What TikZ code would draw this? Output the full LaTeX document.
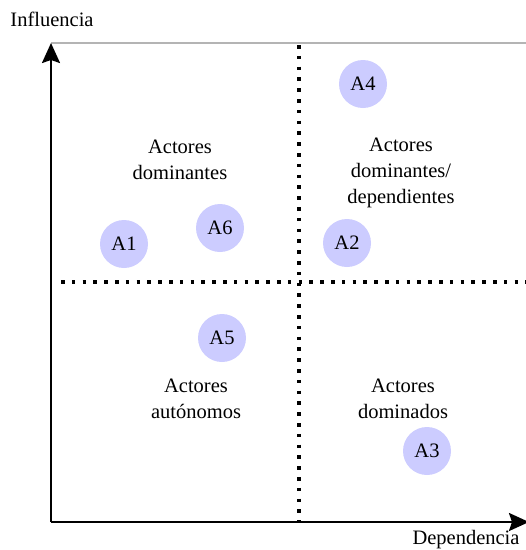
\documentclass[tikz,border=0pt]{standalone}
\usepackage{fontspec}
\setmainfont{Liberation Serif}
\usetikzlibrary{arrows.meta}
\definecolor{actorfill}{HTML}{CCCCFF}
\definecolor{frameline}{HTML}{B4B4B4}
\begin{document}
\begin{tikzpicture}[x=1pt,y=-1pt,
  lbl/.style={font=\fontsize{20.5}{26}\selectfont, inner sep=0pt, align=center},
  actor/.style={circle, fill=actorfill, minimum size=48pt, inner sep=0pt,
                font=\fontsize{20.5}{26}\selectfont},
  axisline/.style={line width=2.2pt, -{Stealth[length=20pt,width=18pt,inset=3pt]}},
  divider/.style={line width=3.5pt, dash pattern=on 3.5pt off 7.3pt}]
  \useasboundingbox (0,0) rectangle (526,550);

  % axes and frame
  \coordinate (o) at (51,522);
  \coordinate (ytop) at (51,43);
  \coordinate (xend) at (529,522);
  \coordinate (rtop) at (526,43);
  \draw[frameline, line width=2pt] (ytop) -- (rtop);
  \draw[axisline] (o) -- (ytop);
  \draw[axisline] (o) -- (xend);

  % quadrant dividers
  \coordinate (vtop) at (299,45);
  \coordinate (vbot) at (299,522);
  \coordinate (hl) at (61,282);
  \coordinate (hr) at (526,282);
  \draw[divider] (vtop) -- (vbot);
  \draw[divider] (hl) -- (hr);

  % axis labels
  \node[lbl] (yl) at (52,19) {Influencia};
  \node[lbl] (xl) at (466,540) {Dependencia};

  % quadrant labels
  \node[lbl] (q1) at (180,160) {Actores\\dominantes};
  \node[lbl] (q2) at (401,173) {Actores\\dominantes/\\dependientes};
  \node[lbl] (q3) at (196,399) {Actores\\autónomos};
  \node[lbl] (q4) at (403,399) {Actores\\dominados};

  % actors
  \node[actor] (a1) at (124,244) {A1};
  \node[actor] (a2) at (347,243) {A2};
  \node[actor] (a3) at (427,451) {A3};
  \node[actor] (a4) at (363,84) {A4};
  \node[actor] (a5) at (222,338) {A5};
  \node[actor] (a6) at (220,228) {A6};
\end{tikzpicture}
\end{document}
